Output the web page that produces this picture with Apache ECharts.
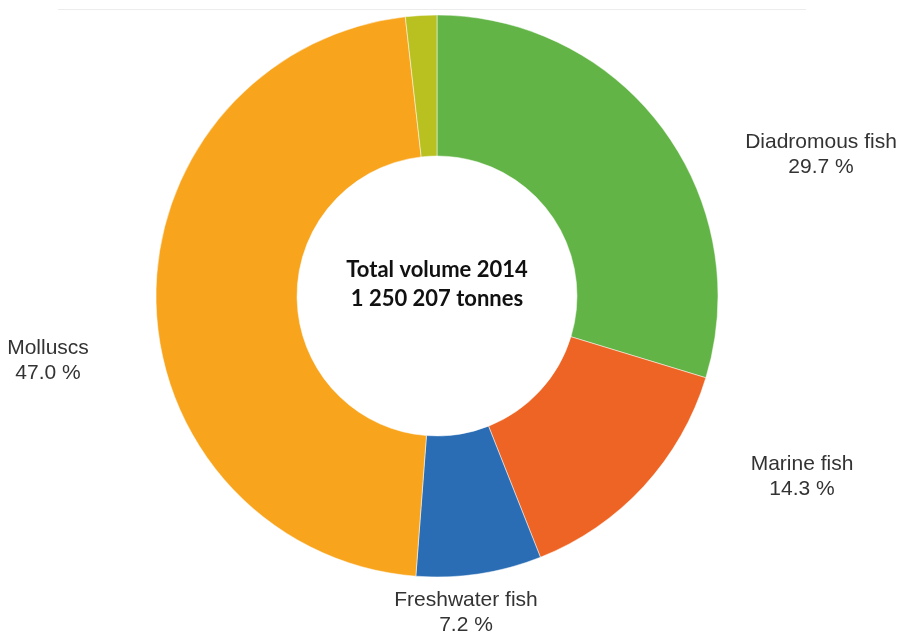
<!DOCTYPE html>
<html>
<head>
<meta charset="utf-8">
<script src="https://cdn.jsdelivr.net/npm/echarts@6/dist/echarts.min.js"></script>
<style>
  html, body { margin: 0; padding: 0; background: #ffffff; }
  #chart { width: 901px; height: 632px; }
</style>
</head>
<body>
<div id="chart"></div>
<script>
// Aquaculture production by species group, share of total volume (%)
const categories = ['Diadromous fish', 'Marine fish', 'Freshwater fish', 'Molluscs', 'Other'];
const shares = [29.7, 14.3, 7.2, 47.0, 1.8];
const colors = ['#62b446', '#ee6424', '#2a6db5', '#f8a41c', '#b8c11f'];
const showLabel = [true, true, true, true, false];
const centerLines = ['Total volume 2014', '1 250 207 tonnes'];

// Where each outside label sits (label centre, px)
const labelSpots = {
  'Diadromous fish': [821, 155],
  'Marine fish': [802, 477],
  'Freshwater fish': [466, 613],
  'Molluscs': [48, 361]
};

const chart = echarts.init(document.getElementById('chart'), null, { renderer: 'canvas' });

const data = categories.map((name, i) => ({
  name: name,
  value: shares[i],
  itemStyle: { color: colors[i] },
  label: { show: showLabel[i] }
}));

chart.setOption({
  animation: false,
  backgroundColor: '#ffffff',
  graphic: [
    {
      type: 'rect',
      shape: { x: 58, y: 9, width: 748, height: 1 },
      style: { fill: '#ececec' },
      silent: true
    },
    {
      type: 'text',
      silent: true,
      style: {
        x: 437, y: 284,
        text: centerLines.join('\n'),
        font: 'bold 22px Lato, "Noto Sans", sans-serif',
        fill: '#111111',
        align: 'center',
        verticalAlign: 'middle',
        lineHeight: 29
      }
    }
  ],
  series: [{
    type: 'pie',
    center: [437, 296],
    radius: [140, 281],
    startAngle: 90,
    clockwise: true,
    avoidLabelOverlap: false,
    itemStyle: { borderColor: '#ffffff', borderWidth: 0.5 },
    label: {
      position: 'outside',
      formatter: p => p.name + '\n' + p.value.toFixed(1) + ' %',
      fontFamily: '"Liberation Sans", Arial, sans-serif',
      fontSize: 21,
      lineHeight: 25,
      color: '#333333',
      align: 'center'
    },
    labelLine: { show: false },
    labelLayout: function (params) {
      const spot = labelSpots[categories[params.dataIndex]];
      if (!spot) return {};
      return {
        x: spot[0],
        y: spot[1],
        align: 'center',
        verticalAlign: 'middle',
        hideOverlap: false
      };
    },
    emphasis: { disabled: true },
    data: data
  }]
});
</script>
</body>
</html>
